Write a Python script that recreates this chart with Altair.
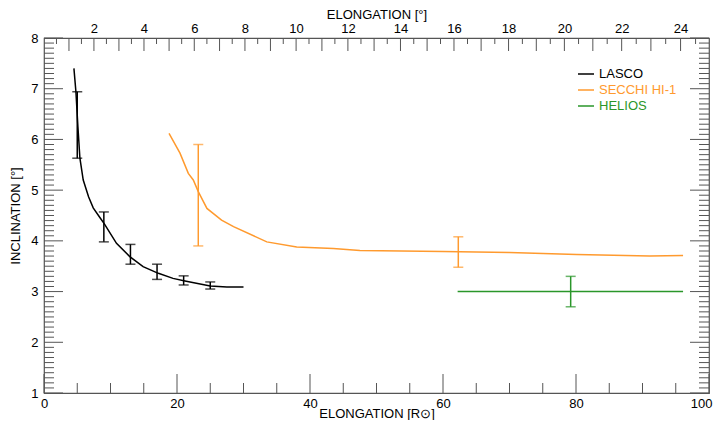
import math
import altair as alt
import pandas as pd

# ---------------- data ----------------
series_names = ["LASCO", "SECCHI HI-1", "HELIOS"]
series_colors = ["#000000", "#ff9a2e", "#2a962a"]

lasco_r = [4.5, 4.8, 5.1, 5.4, 5.9, 6.7, 7.4, 8.4, 9.1, 10.9, 12.9, 14.9, 17.2, 19.4, 21.2, 25.0, 27.5, 30.0]
lasco_i = [7.40, 6.94, 6.25, 5.63, 5.20, 4.87, 4.65, 4.46, 4.33, 3.95, 3.69, 3.49, 3.36, 3.26, 3.21, 3.11, 3.09, 3.09]

secchi_r = [18.8, 20.45, 21.7, 22.45, 23.2, 24.5, 26.7, 28.5, 33.5, 38.0, 43.5, 47.5, 60.0, 70.0, 80.1, 91.1, 96.1]
secchi_i = [6.12, 5.73, 5.33, 5.20, 4.97, 4.64, 4.41, 4.28, 3.98, 3.88, 3.85, 3.81, 3.79, 3.77, 3.73, 3.70, 3.71]

helios_r = [62.2, 96.1]
helios_i = [3.0, 3.0]

err_series = ["LASCO", "LASCO", "LASCO", "LASCO", "LASCO", "LASCO", "SECCHI HI-1", "SECCHI HI-1", "HELIOS"]
err_r = [5.0, 9.0, 13.0, 17.0, 21.0, 25.0, 23.2, 62.3, 79.2]
err_lo = [5.63, 3.98, 3.54, 3.24, 3.13, 3.05, 3.90, 3.48, 2.70]
err_hi = [6.94, 4.57, 3.93, 3.54, 3.31, 3.19, 5.90, 4.08, 3.30]

x_labels = [0, 20, 40, 60, 80, 100]
y_labels = [1, 2, 3, 4, 5, 6, 7, 8]
deg_labels = [2, 4, 6, 8, 10, 12, 14, 16, 18, 20, 22, 24]
AU_RSUN = 215.0

# ---------------- layout ----------------
W, H = 665, 355
XMIN, XMAX, YMIN, YMAX = 0, 100, 1, 8
px_x = W / (XMAX - XMIN)
px_y = H / (YMAX - YMIN)
FONT = "Liberation Sans"
AXC = "#555555"

rows = []
for name, rs, vs in [("LASCO", lasco_r, lasco_i), ("SECCHI HI-1", secchi_r, secchi_i), ("HELIOS", helios_r, helios_i)]:
    for k, (r, v) in enumerate(zip(rs, vs)):
        rows.append({"series": name, "r": r, "inc": v, "k": k})
lines_df = pd.DataFrame(rows)
err_df = pd.DataFrame({"series": err_series, "r": err_r, "lo": err_lo, "hi": err_hi})

# tick marks (drawn inward, in data units)
bt = []
for v in range(0, 101, 5):
    L = (19 if v % 20 == 0 else 10) / px_y
    bt.append({"x": v, "y": YMIN, "y2": YMIN + L})
bottom_df = pd.DataFrame(bt)

tt = []
for i in range(1, 50):
    d = i * 0.5
    L = (13 if i % 2 == 0 else 6) / px_y
    tt.append({"x": AU_RSUN * math.tan(math.radians(d)), "y": YMAX, "y2": YMAX - L})
top_df = pd.DataFrame(tt)

lt = []
for i in range(10, 81):
    v = i / 10
    L = (19 if i % 10 == 0 else 10) / px_x
    lt.append({"y": v, "x": XMIN, "x2": XMIN + L, "xr": XMAX, "xr2": XMAX - L})
side_df = pd.DataFrame(lt)

xs = alt.Scale(domain=[XMIN, XMAX], nice=False, zero=False)
ys = alt.Scale(domain=[YMIN, YMAX], nice=False, zero=False)
cs = alt.Scale(domain=series_names, range=series_colors)

label_color_expr = ("datum.label == 'LASCO' ? '#000000' : "
                    "(datum.label == 'HELIOS' ? '#2a962a' : '#ff9a2e')")

lines = alt.Chart(lines_df).mark_line(strokeWidth=1.5).encode(
    x=alt.X("r:Q", scale=xs,
            axis=alt.Axis(orient="bottom", values=x_labels, ticks=False, domain=False, grid=False,
                          labelFlush=False, labelPadding=4,
                          labelAlign=alt.ExprRef(expr="datum.value >= 100 ? 'right' : 'center'"),
                          labelOffset=alt.ExprRef(expr="datum.value >= 100 ? 3 : 0"),
                          title="ELONGATION [R⊙]",
                          titleBaseline="alphabetic", titleY=24)),
    y=alt.Y("inc:Q", scale=ys,
            axis=alt.Axis(orient="left", values=y_labels, ticks=False, domain=False, grid=False,
                          labelFlush=False, labelPadding=6, title="INCLINATION [°]", titlePadding=8)),
    color=alt.Color("series:N", scale=cs, title=None,
                    legend=alt.Legend(orient="none", legendX=533, legendY=27,
                                      symbolType="stroke", symbolSize=256, symbolStrokeWidth=1.5,
                                      labelFontSize=13, labelFont=FONT, labelOffset=4,
                                      rowPadding=0, labelColor=alt.ExprRef(expr=label_color_expr))),
    detail="series:N",
    order="k:Q",
)

err_rule = alt.Chart(err_df).mark_rule(strokeWidth=1.5).encode(
    x=alt.X("r:Q", scale=xs, axis=None),
    y=alt.Y("lo:Q", scale=ys, axis=None),
    y2="hi:Q",
    color=alt.Color("series:N", scale=cs, legend=None),
)
err_lo_t = alt.Chart(err_df).mark_tick(orient="horizontal", size=10, thickness=1.5).encode(
    x=alt.X("r:Q", scale=xs, axis=None),
    y=alt.Y("lo:Q", scale=ys, axis=None),
    color=alt.Color("series:N", scale=cs, legend=None),
)
err_hi_t = alt.Chart(err_df).mark_tick(orient="horizontal", size=10, thickness=1.5).encode(
    x=alt.X("r:Q", scale=xs, axis=None),
    y=alt.Y("hi:Q", scale=ys, axis=None),
    color=alt.Color("series:N", scale=cs, legend=None),
)

bottom_ticks = alt.Chart(bottom_df).mark_rule(color=AXC, strokeWidth=1).encode(
    x=alt.X("x:Q", scale=xs, axis=None),
    y=alt.Y("y:Q", scale=ys, axis=None), y2="y2:Q")

top_ticks = alt.Chart(top_df).mark_rule(color=AXC, strokeWidth=1).encode(
    x=alt.X("x:Q", scale=xs,
            axis=alt.Axis(orient="top", values=[AU_RSUN * math.tan(math.radians(d)) for d in deg_labels],
                          labelExpr="round(atan(datum.value / 215) * 180 / PI)",
                          ticks=False, domain=False, grid=False, labelFlush=False, labelPadding=3,
                          title="ELONGATION [°]", titleBaseline="alphabetic", titleY=-20)),
    y=alt.Y("y:Q", scale=ys, axis=None), y2="y2:Q")

left_ticks = alt.Chart(side_df).mark_rule(color=AXC, strokeWidth=1).encode(
    y=alt.Y("y:Q", scale=ys, axis=None),
    x=alt.X("x:Q", scale=xs, axis=None), x2="x2:Q")
right_ticks = alt.Chart(side_df).mark_rule(color=AXC, strokeWidth=1).encode(
    y=alt.Y("y:Q", scale=ys, axis=None),
    x=alt.X("xr:Q", scale=xs, axis=None), x2="xr2:Q")

chart = alt.layer(
    bottom_ticks, top_ticks, left_ticks, right_ticks, lines, err_rule, err_lo_t, err_hi_t
).resolve_axis(x="independent", y="independent").properties(
    width=W, height=H, autosize="none",
    padding={"left": 36, "top": 30, "right": 4, "bottom": 27},
).configure_view(stroke=AXC, strokeWidth=1.2).configure_axis(
    labelFont=FONT, labelFontSize=13, labelColor="#000000",
    titleFont=FONT, titleFontSize=13, titleFontWeight="normal", titleColor="#000000",
).configure_legend(labelFont=FONT)

chart.save("out.html", embed_options={"renderer": "svg", "actions": False})
